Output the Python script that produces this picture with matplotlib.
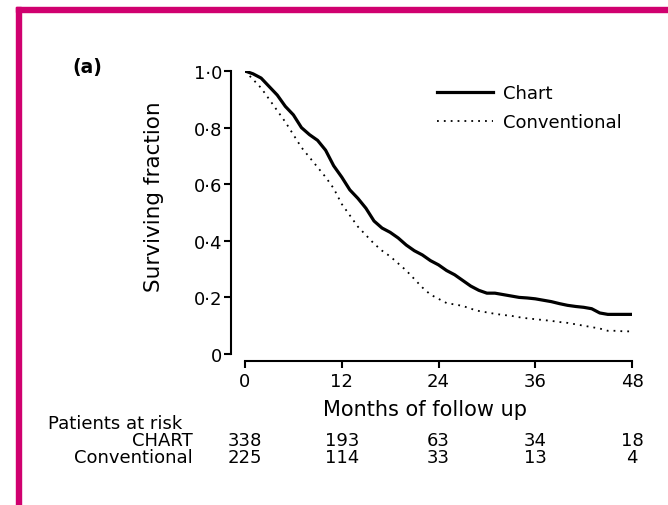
import matplotlib
matplotlib.use('Agg')
import matplotlib.pyplot as plt
from matplotlib.patches import Rectangle

plt.rcParams['font.family'] = ['DejaVu Sans']

# Curvas de sobrevida (meses, fracao sobrevivente)
meses = [0, 1, 2, 3, 4, 5, 6, 7, 8, 9, 10, 11, 12, 13, 14, 15, 16, 17, 18, 19, 20,
         21, 22, 23, 24, 25, 26, 27, 28, 29, 30, 31, 32, 33, 34, 35, 36, 37, 38, 39,
         40, 41, 42, 43, 44, 45, 46, 47, 48]
sobrevida_chart = [1.0, 0.99, 0.975, 0.945, 0.915, 0.875, 0.845, 0.80, 0.775, 0.755,
                   0.72, 0.665, 0.625, 0.58, 0.55, 0.515, 0.47, 0.445, 0.43, 0.41,
                   0.385, 0.365, 0.35, 0.33, 0.315, 0.295, 0.28, 0.26, 0.24, 0.225,
                   0.215, 0.215, 0.21, 0.205, 0.20, 0.198, 0.195, 0.19, 0.185, 0.178,
                   0.172, 0.168, 0.165, 0.16, 0.145, 0.14, 0.14, 0.14, 0.14]
sobrevida_conv = [1.0, 0.97, 0.94, 0.90, 0.86, 0.82, 0.775, 0.73, 0.695, 0.66,
                  0.625, 0.585, 0.53, 0.49, 0.45, 0.42, 0.39, 0.365, 0.345, 0.32,
                  0.295, 0.265, 0.235, 0.21, 0.195, 0.18, 0.175, 0.17, 0.16, 0.152,
                  0.147, 0.142, 0.138, 0.135, 0.13, 0.126, 0.123, 0.12, 0.117, 0.113,
                  0.11, 0.105, 0.10, 0.095, 0.09, 0.082, 0.082, 0.08, 0.08]

# Eixos e pacientes em risco
ticks_x = [0, 12, 24, 36, 48]
rotulos_x = ['0', '12', '24', '36', '48']
ticks_y = [0, 0.2, 0.4, 0.6, 0.8, 1.0]
rotulos_y = ['0', '0·2', '0·4', '0·6', '0·8', '1·0']
risco_chart = [338, 193, 63, 34, 18]
risco_conv = [225, 114, 33, 13, 4]

W, H = 668, 506
fig = plt.figure(figsize=(W / 100, H / 100), dpi=100)

# moldura magenta
fig.patches.append(Rectangle((16 / W, 0), 5 / W, (H - 8) / H, transform=fig.transFigure,
                             color='#D0006F', zorder=0))
fig.patches.append(Rectangle((16 / W, (H - 13) / H), (W - 16) / W, 5 / H,
                             transform=fig.transFigure, color='#D0006F', zorder=0))

ax = fig.add_axes([245 / W, (H - 355) / H, 387 / W, 283 / H])
ax.plot(meses, sobrevida_chart, color='black', lw=2.3, label='Chart')
ax.plot(meses, sobrevida_conv, color='black', lw=1.3, linestyle=(0, (1, 2.8)),
        label='Conventional')

ax.set_xlim(0, 48)
ax.set_ylim(0, 1)
ax.spines['top'].set_visible(False)
ax.spines['right'].set_visible(False)
ax.spines['left'].set_position(('outward', 10))
ax.spines['bottom'].set_position(('outward', 5))
ax.spines['left'].set_linewidth(1.5)
ax.spines['bottom'].set_linewidth(1.5)
ax.spines['left'].set_bounds(0, 1)
ax.spines['bottom'].set_bounds(0, 48)

ax.set_xticks(ticks_x)
ax.set_xticklabels(rotulos_x)
ax.set_yticks(ticks_y)
ax.set_yticklabels(rotulos_y)
ax.tick_params(axis='both', length=5, width=1.5, labelsize=13)
ax.tick_params(axis='y', pad=1.5)
ax.tick_params(axis='x', pad=3)

ax.set_ylabel('Surviving fraction', fontsize=15.5)
ax.yaxis.set_label_coords(-0.21, 0.56)

leg = ax.legend(loc='upper left', bbox_to_anchor=(437 / W, (H - 85) / H),
                bbox_transform=fig.transFigure, frameon=False, fontsize=13,
                handlelength=3.1, handletextpad=0.55, labelspacing=0.6, borderpad=0,
                borderaxespad=0)

fig.text(87 / W, 1 - 67 / H, '(a)', ha='center', va='center', fontsize=13.5,
         fontweight='bold')
fig.text(425 / W, 1 - 410 / H, 'Months of follow up', ha='center', va='center',
         fontsize=15)

fig.text(48 / W, 1 - 424 / H, 'Patients at risk', ha='left', va='center', fontsize=13)
fig.text(193 / W, 1 - 441 / H, 'CHART', ha='right', va='center', fontsize=13)
fig.text(193 / W, 1 - 458 / H, 'Conventional', ha='right', va='center', fontsize=13)
for t, a, b in zip(ticks_x, risco_chart, risco_conv):
    xf = ax.transData.transform((t, 0))[0] / W
    fig.text(xf, 1 - 441 / H, str(a), ha='center', va='center', fontsize=13)
    fig.text(xf, 1 - 458 / H, str(b), ha='center', va='center', fontsize=13)

fig.savefig('out.png', dpi=100)
